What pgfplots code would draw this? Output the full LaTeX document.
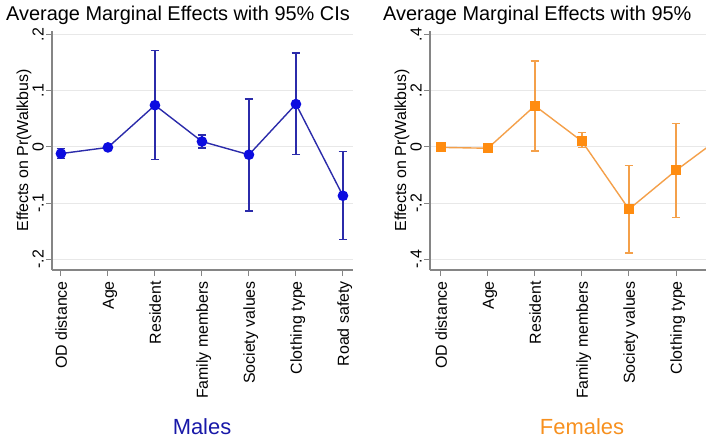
\documentclass[border=0pt]{standalone}
\usepackage{fontspec}
\setmainfont{Liberation Sans}
\usepackage{pgfplots}
\pgfplotsset{compat=1.18}
\usepackage{pgfplotstable}

\definecolor{mline}{HTML}{2B2BAA}
\definecolor{mfill}{HTML}{0C0CE0}
\definecolor{mtext}{HTML}{1818A8}
\definecolor{fline}{HTML}{F4A04A}
\definecolor{ffill}{HTML}{FF8C10}
\definecolor{ftext}{HTML}{F7901E}
\definecolor{gridc}{HTML}{E8E8E8}
\definecolor{axc}{HTML}{858585}

% x = category, y = marginal effect, ep/em = distance to upper/lower 95% CI bound
\pgfplotstableread{
x y ep em
0 -0.012 0.009 0.009
1 -0.001 0.002 0.002
2 0.074 0.097 0.096
3 0.0095 0.0115 0.0115
4 -0.014 0.099 0.100
5 0.076 0.091 0.090
6 -0.087 0.079 0.078
}\males

\pgfplotstableread{
x y ep em
0 -0.002 0.002 0.002
1 -0.005 0.002 0.002
2 0.146 0.159 0.161
3 0.020 0.030 0.022
4 -0.222 0.156 0.156
5 -0.084 0.166 0.167
6 0.040 0.155 0.155
}\females

\pgfplotsset{
  panel/.style={
    scale only axis, width=301bp, height=239bp,
    axis x line=bottom, axis y line=left, axis line style={-, draw=axc, line width=1.1bp},
    xtick={0,...,6},
    tick align=outside, major tick length=6bp,
    tick style={draw=axc, line width=0.9bp},
    ymajorgrids, grid style={draw=gridc, line width=0.8bp},
    xticklabel style={xshift=6bp, yshift=-5bp, rotate=90, anchor=base east, inner sep=0pt,
      font=\fontsize{16}{19}\selectfont},
    yticklabel style={xshift=-2.5bp, rotate=90, anchor=base, inner sep=0pt,
      font=\fontsize{16}{19}\selectfont},
    ylabel={Effects on Pr(Walkbus)},
    ylabel style={at={([xshift=-24bp]axis description cs:0,0.5)}, anchor=base, inner sep=0pt,
      font=\fontsize{16}{19}\selectfont},
    clip=true,
  },
}

\begin{document}
\begin{tikzpicture}
\clip (0,0) rectangle (706bp,438bp);
\path[use as bounding box] (0,0) rectangle (706bp,438bp);

\begin{axis}[panel, at={(52bp,168bp)}, anchor=south west,
  xmin=-0.19, xmax=6.214, ymin=-0.219, ymax=0.206,
  xticklabels={OD distance,Age,Resident,Family members,Society values,Clothing type,Road safety},
  ytick={-0.2,-0.1,0,0.1,0.2}, yticklabels={-.2,-.1,0,.1,.2}]
\addplot[color=mline, line width=1.4bp, mark=*, mark size=4.6bp,
  mark options={fill=mfill, draw=mfill},
  error bars/.cd, y dir=both, y explicit,
  error mark=|, error mark options={mark size=4.2bp, line width=1.3bp, color=mline, solid},
  error bar style={line width=1.3bp, color=mline}]
  table[x=x, y=y, y error plus=ep, y error minus=em] {\males};
\end{axis}

\begin{axis}[panel, at={(430bp,168bp)}, anchor=south west,
  xmin=-0.23, xmax=6.17, ymin=-0.438, ymax=0.412,
  xticklabels={OD distance,Age,Resident,Family members,Society values,Clothing type,{}},
  ytick={-0.4,-0.2,0,0.2,0.4}, yticklabels={-.4,-.2,0,.2,.4}]
\addplot[color=fline, line width=1.4bp, mark=square*, mark size=4.3bp,
  mark options={fill=ffill, draw=ffill},
  error bars/.cd, y dir=both, y explicit,
  error mark=|, error mark options={mark size=4.2bp, line width=1.3bp, color=fline, solid},
  error bar style={line width=1.3bp, color=fline}]
  table[x=x, y=y, y error plus=ep, y error minus=em] {\females};
\end{axis}

\node[anchor=base west, inner sep=0pt, font=\fontsize{20}{24}\selectfont] at (6bp,417bp)
  {Average Marginal Effects with 95\% CIs};
\node[anchor=base west, inner sep=0pt, font=\fontsize{20}{24}\selectfont, fill=white] at (383bp,417bp)
  {Average Marginal Effects with 95\%};
\node[anchor=base, inner sep=0pt, font=\fontsize{22}{26}\selectfont, text=mtext] at (202bp,3.5bp) {Males};
\node[anchor=base, inner sep=0pt, font=\fontsize{22}{26}\selectfont, text=ftext] at (582bp,3.5bp) {Females};
\end{tikzpicture}
\end{document}
